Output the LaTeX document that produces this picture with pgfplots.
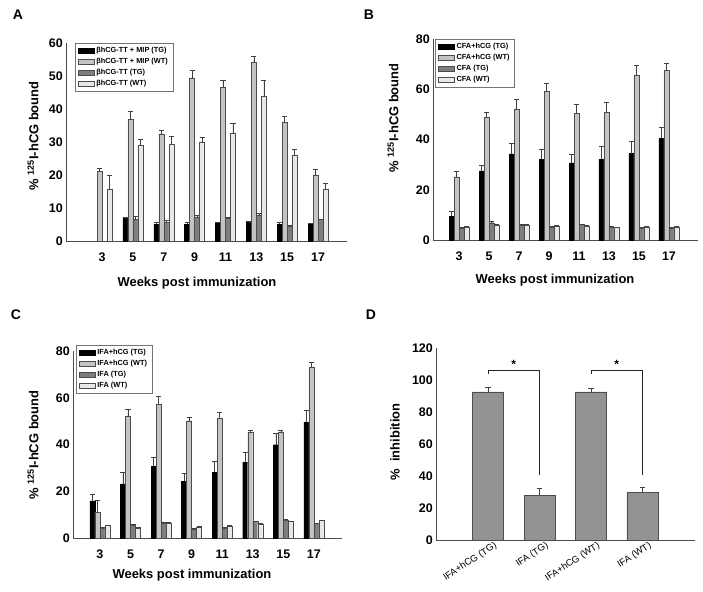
\documentclass[border=0pt]{standalone}
\usepackage{pgfplots}
\pgfplotsset{compat=1.18}
\usepackage{fontspec}
\setmainfont{Liberation Sans}
\definecolor{cBlack}{HTML}{000000}
\definecolor{cLight}{HTML}{C4C4C4}
\definecolor{cDark}{HTML}{7E7E7E}
\definecolor{cPale}{HTML}{E8E8E8}
\definecolor{cD}{HTML}{939393}
\pgfplotsset{
  panel/.style={
    scale only axis,
    anchor=south west,
    axis x line=bottom, axis y line=left,
    axis line style={-, black!70, line width=0.6pt},
    ymin=0,
    major tick length=0pt,
    tick label style={font=\bfseries\fontsize{12.5}{12.5}\selectfont},
    /pgf/number format/assume math mode=true,
    yticklabel style={anchor=east, inner sep=0pt, xshift=-3bp},
    clip=false,
  },
  weeks/.style={
    panel,
    xtick={0,1,2,3,4,5,6,7},
    xticklabels={3,5,7,9,11,13,15,17},
    xticklabel style={anchor=center, yshift=-16bp},
    ybar=0pt, bar width=5bp,
    legend cell align=left,
    legend style={draw=black!55, line width=0.4pt,
      font=\bfseries\fontsize{7.4}{8}\selectfont,
      inner xsep=2.5bp, inner ysep=3bp, row sep=1.6bp,
      nodes={inner ysep=1.2bp, inner xsep=2.4bp}},
    legend image code/.code={\draw[#1] (0bp,-2.5bp) rectangle (16bp,2.5bp);},
  },
  eb/.style={
    error bars/y dir=plus, error bars/y explicit,
    error bars/error bar style={black!75, line width=0.5pt},
    error bars/error mark options={rotate=90, black!75, mark size=2.6bp, line width=0.5pt},
  },
  sA/.style={draw=black, line width=0.3pt, fill=cBlack, eb},
  sB/.style={draw=black!70, line width=0.3pt, fill=cLight, eb},
  sC/.style={draw=black!70, line width=0.3pt, fill=cDark, eb},
  sD/.style={draw=black!70, line width=0.3pt, fill=cPale, eb},
}
\begin{document}
\begin{tikzpicture}[x=1bp,y=1bp]
\path[use as bounding box] (0,0) rectangle (703,592);

% ---------------- Panel A
\begin{axis}[weeks, at={(66bp,351bp)}, width=281bp, height=198bp,
  xmin=-1.17, xmax=7.94, ymax=60, ytick={0,10,...,60},
  legend style={at={(axis description cs:0.032,1)}, anchor=north west}]
\addplot[sA] coordinates {(1,6.9)+-(0,0.2) (2,5.1)+-(0,0.6) (3,5.0)+-(0,0.6) (4,5.6)+-(0,0.2) (5,5.7)+-(0,0.2) (6,5.0)+-(0,0.6) (7,5.0)+-(0,0.3)};
\addplot[sB] coordinates {(0,21.2)+-(0,0.9) (1,36.8)+-(0,2.6) (2,32.5)+-(0,1.1) (3,49.4)+-(0,2.2) (4,46.6)+-(0,2.1) (5,54.3)+-(0,1.8) (6,35.9)+-(0,1.8) (7,20.1)+-(0,1.6)};
\addplot[sC] coordinates {(1,6.5)+-(0,1.0) (2,5.7)+-(0,0.6) (3,7.3)+-(0,0.4) (4,6.8)+-(0,0.5) (5,7.8)+-(0,0.6) (6,4.6)+-(0,0.3) (7,6.5)+-(0,0.2)};
\addplot[sD] coordinates {(0,15.6)+-(0,4.3) (1,29.1)+-(0,1.6) (2,29.4)+-(0,2.3) (3,30.1)+-(0,1.2) (4,32.6)+-(0,3.1) (5,43.8)+-(0,4.8) (6,25.9)+-(0,1.8) (7,15.6)+-(0,2.0)};
\legend{βhCG-TT + MIP (TG), βhCG-TT + MIP (WT), βhCG-TT (TG), βhCG-TT (WT)}
\end{axis}

% ---------------- Panel B
\begin{axis}[weeks, at={(433bp,352bp)}, width=265bp, height=201bp,
  xmin=-0.87, xmax=7.97, ymax=80, ytick={0,20,...,80},
  legend style={at={(axis description cs:0.008,1)}, anchor=north west}]
\addplot[sA] coordinates {(0,9.5)+-(0,1.8) (1,27.5)+-(0,2.3) (2,34.3)+-(0,4.4) (3,32.1)+-(0,4.2) (4,30.7)+-(0,3.3) (5,32.1)+-(0,5.4) (6,34.4)+-(0,4.8) (7,40.4)+-(0,4.4)};
\addplot[sB] coordinates {(0,25.2)+-(0,2.3) (1,48.7)+-(0,2.2) (2,51.9)+-(0,4.0) (3,59.3)+-(0,3.0) (4,50.3)+-(0,3.7) (5,51.0)+-(0,3.8) (6,65.7)+-(0,3.7) (7,67.4)+-(0,2.8)};
\addplot[sC] coordinates {(0,4.9)+-(0,0.2) (1,6.9)+-(0,0.6) (2,6.0)+-(0,0.2) (3,5.3)+-(0,0.2) (4,6.2)+-(0,0.2) (5,5.3)+-(0,0.2) (6,4.9)+-(0,0.2) (7,4.6)+-(0,0.3)};
\addplot[sD] coordinates {(0,5.3)+-(0,0.3) (1,6.0)+-(0,0.2) (2,6.1)+-(0,0.3) (3,5.4)+-(0,0.4) (4,5.4)+-(0,0.4) (5,5.0)+-(0,0.2) (6,5.3)+-(0,0.2) (7,5.3)+-(0,0.2)};
\legend{CFA+hCG (TG), CFA+hCG (WT), CFA (TG), CFA (WT)}
\end{axis}

% ---------------- Panel C
\begin{axis}[weeks, at={(73bp,54bp)}, width=269bp, height=187bp,
  xmin=-0.88, xmax=7.92, ymax=80, ytick={0,20,...,80},
  legend style={at={(axis description cs:0.011,1.032)}, anchor=north west}]
\addplot[sA] coordinates {(0,15.9)+-(0,3.0) (1,23.2)+-(0,5.0) (2,30.6)+-(0,4.0) (3,24.2)+-(0,3.6) (4,28.2)+-(0,4.5) (5,32.5)+-(0,4.1) (6,39.9)+-(0,4.9) (7,49.5)+-(0,5.3)};
\addplot[sB] coordinates {(0,11.0)+-(0,5.1) (1,52.0)+-(0,3.2) (2,57.4)+-(0,3.1) (3,50.2)+-(0,1.3) (4,51.2)+-(0,2.6) (5,45.1)+-(0,0.9) (6,45.4)+-(0,0.9) (7,73.3)+-(0,1.9)};
\addplot[sC] coordinates {(0,4.4)+-(0,0.2) (1,5.7)+-(0,0.2) (2,6.4)+-(0,0.4) (3,3.8)+-(0,0.2) (4,4.4)+-(0,0.2) (5,7.0)+-(0,0.2) (6,7.8)+-(0,0.2) (7,6.3)+-(0,0.2)};
\addplot[sD] coordinates {(0,5.4)+-(0,0.2) (1,4.4)+-(0,0.2) (2,6.3)+-(0,0.5) (3,4.7)+-(0,0.2) (4,5.0)+-(0,0.4) (5,6.1)+-(0,0.2) (6,7.1)+-(0,0.2) (7,7.5)+-(0,0.2)};
\legend{IFA+hCG (TG), IFA+hCG (WT), IFA (TG), IFA (WT)}
\end{axis}

% ---------------- Panel D
\begin{axis}[panel, at={(436bp,52bp)}, width=259bp, height=192bp,
  xmin=-1.01, xmax=4.02, ymax=120, ytick={0,20,...,120},
  xtick={0,1,2,3},
  xticklabels={IFA+hCG (TG), IFA (TG), IFA+hCG (WT), IFA (WT)},
  xticklabel style={font=\fontsize{9.5}{9.5}\selectfont, rotate=33, anchor=north east, inner sep=1bp, xshift=5bp, yshift=-3bp}]
\addplot[ybar, bar width=31bp, draw=black!70, line width=0.4pt, fill=cD, eb] coordinates {(0,92.6)+-(0,3.1) (1,28.1)+-(0,4.1) (2,92.6)+-(0,2.5) (3,29.7)+-(0,3.2)};
\addplot[black!85, line width=0.8pt, no marks] coordinates {(0,103.8) (0,106.3) (1,106.3) (1,40.6)};
\addplot[black!85, line width=0.8pt, no marks] coordinates {(2,103.8) (2,106.3) (3,106.3) (3,40.6)};
\node[font=\bfseries\fontsize{12}{12}\selectfont] at (axis cs:0.5,109.8) {*};
\node[font=\bfseries\fontsize{12}{12}\selectfont] at (axis cs:2.5,109.8) {*};
\end{axis}

% ---------------- Labels
\begin{scope}[every node/.style={font=\bfseries\fontsize{13}{13}\selectfont}]
\node at (197,309) {Weeks post immunization};
\node at (555,312) {Weeks post immunization};
\node at (192,17) {Weeks post immunization};
\node[rotate=90] at (33,456) {\% \textsuperscript{125}I-hCG bound};
\node[rotate=90] at (393,474) {\% \textsuperscript{125}I-hCG bound};
\node[rotate=90] at (33,147) {\% \textsuperscript{125}I-hCG bound};
\node[rotate=90] at (395,150) {\%\ \ inhibition};
\end{scope}
\begin{scope}[every node/.style={font=\bfseries\fontsize{14}{14}\selectfont}]
\node at (18,577) {A};
\node at (369,577) {B};
\node at (16,277) {C};
\node at (371,277) {D};
\end{scope}
\end{tikzpicture}
\end{document}
